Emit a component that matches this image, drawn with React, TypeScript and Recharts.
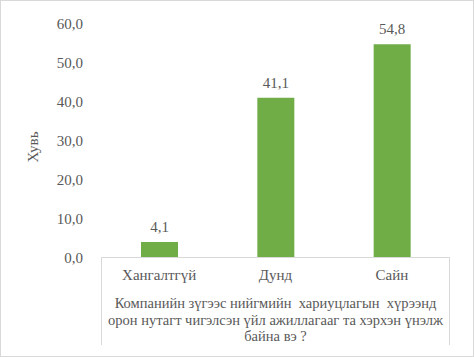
import React from "react";
import { BarChart, Bar, XAxis, YAxis, LabelList } from "recharts";

const categories = ["Хангалтгүй", "Дунд", "Сайн"];
const values = [4.1, 41.1, 54.8];
const yTicks = [0, 10, 20, 30, 40, 50, 60];
const yTitle = "Хувь";
const xTitleLines = [
  "Компанийн зүгээс нийгмийн  хариуцлагын  хүрээнд",
  "орон нутагт чигэлсэн үйл ажиллагааг та хэрхэн үнэлж",
  "байна вэ ?",
];

const data = categories.map((name, i) => ({ name, value: values[i] }));

const fmt = (v: number) => v.toFixed(1).replace(".", ",");

const font = "Times New Roman";
const grey = "#595959";

export default function App() {
  return (
    <div
      style={{
        position: "fixed",
        left: 0,
        top: 0,
        width: 474,
        height: 357,
        background: "#fff",
        fontFamily: font,
      }}
    >
      <BarChart
        width={474}
        height={357}
        data={data}
        margin={{ top: 24, right: 24, left: 21, bottom: 0 }}
        style={{ fontFamily: font }}
      >
        <XAxis
          dataKey="name"
          axisLine={false}
          tickLine={false}
          tickSize={0}
          tickMargin={11}
          height={99}
          tick={{ fill: grey, fontSize: 15, fontFamily: font }}
        />
        <YAxis
          width={80}
          domain={[0, 60]}
          ticks={yTicks}
          axisLine={false}
          tickLine={false}
          tickSize={0}
          tickMargin={18}
          tickFormatter={fmt}
          tick={{ fill: grey, fontSize: 15, fontFamily: font }}
        />
        <Bar dataKey="value" fill="#70AD47" barSize={37} isAnimationActive={false}>
          <LabelList
            dataKey="value"
            position="top"
            offset={10}
            formatter={(v: any) => fmt(Number(v))}
            style={{ fill: grey, fontSize: 15, fontFamily: font }}
          />
        </Bar>
      </BarChart>

      <div
        style={{
          position: "absolute",
          left: 33 - 40,
          top: 147 - 10,
          width: 80,
          height: 20,
          lineHeight: "20px",
          textAlign: "center",
          transform: "rotate(-90deg)",
          color: grey,
          fontSize: 15,
        }}
      >
        {yTitle}
      </div>

      <div
        style={{
          position: "absolute",
          left: 101,
          top: 257,
          width: 349,
          height: 88,
          boxSizing: "border-box",
          borderTop: "1px solid #d9d9d9",
          borderLeft: "1px solid #d9d9d9",
          borderRight: "1px solid #d9d9d9",
          paddingTop: 37,
          textAlign: "center",
          color: grey,
          fontSize: 14.5,
          lineHeight: "16.5px",
          whiteSpace: "pre",
        }}
      >
        {xTitleLines.map((l, i) => (
          <div key={i}>{l}</div>
        ))}
      </div>

      <div
        style={{
          position: "absolute",
          left: 0,
          top: 0,
          width: 474,
          height: 357,
          boxSizing: "border-box",
          border: "1px solid #d9d9d9",
          pointerEvents: "none",
        }}
      />
    </div>
  );
}
